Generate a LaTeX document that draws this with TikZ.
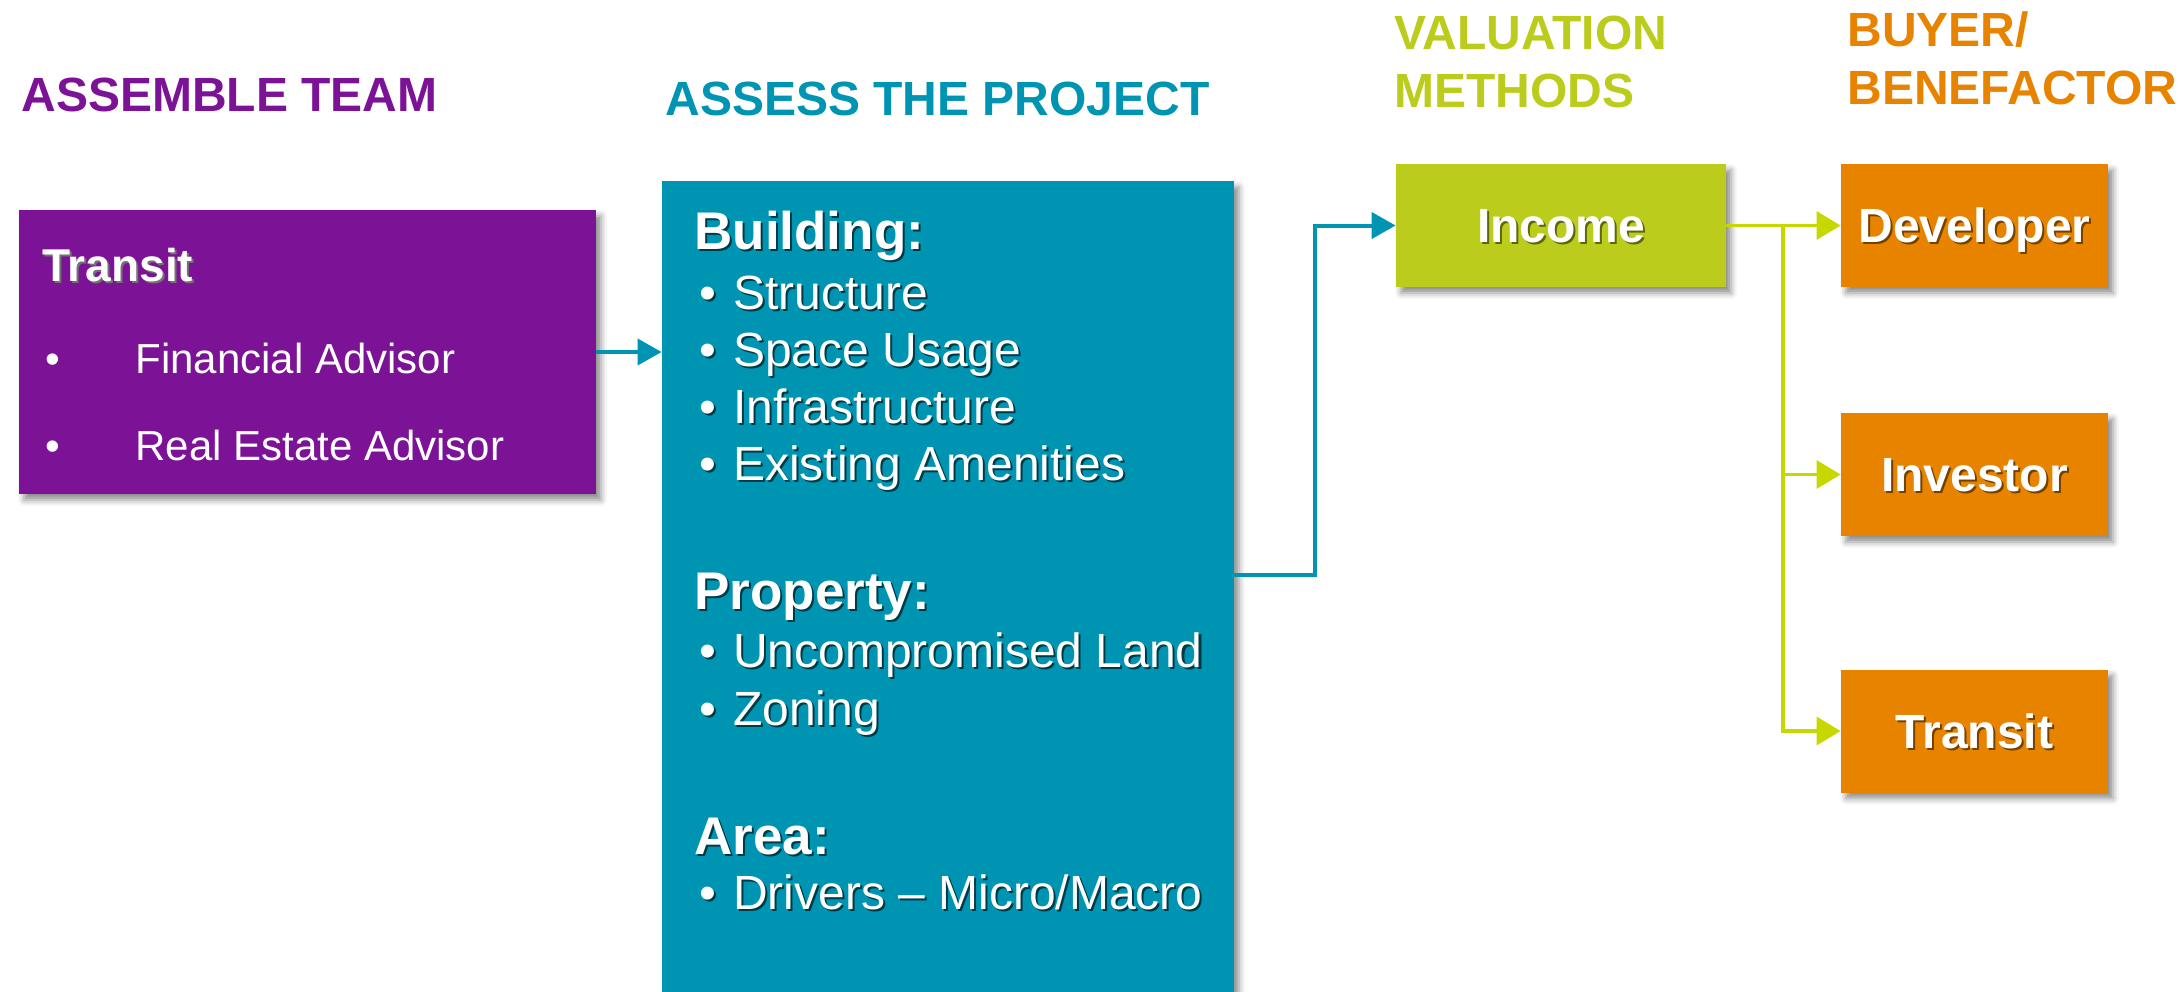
\documentclass[tikz,border=0pt]{standalone}
\usepackage{fontspec}
\setmainfont{Liberation Sans}
\usetikzlibrary{arrows.meta,shadows.blur}

\definecolor{purp}{HTML}{7C1296}
\definecolor{tealc}{HTML}{0094B3}
\definecolor{grnbox}{HTML}{BBCC1C}
\definecolor{grnline}{HTML}{C6D800}
\definecolor{orng}{HTML}{E88300}

% white text with a small dark offset shadow
\newcommand{\shd}[2][black!55]{\makebox[0pt][l]{\kern1pt\raisebox{-1pt}{\textcolor{#1}{#2}}}#2}
% bullet followed by a fixed gap
\newcommand{\blt}{•\hspace{8.5pt}}

\tikzset{
  heading/.style={anchor=base west, inner sep=0pt, font=\fontsize{24}{28}\selectfont\bfseries},
  boxshape/.style={rectangle, inner sep=0pt, text=white,
    blur shadow={shadow xshift=2.5pt, shadow yshift=-3pt, shadow blur radius=3pt, shadow opacity=45}},
  lbl/.style={boxshape, font=\fontsize{24}{28}\selectfont\bfseries, text height=17.2pt, text depth=0pt},
  txt/.style={anchor=base west, inner sep=0pt, text=white},
  subhead/.style={txt, font=\fontsize{26.5}{30}\selectfont\bfseries},
  item/.style={txt, font=\fontsize{24}{28}\selectfont},
  tealarrow/.style={draw=tealc, line width=2pt, -{Triangle[length=12pt,width=13pt]}},
  grnarrow/.style={draw=grnline, line width=1.6pt, -{Triangle[length=12pt,width=14pt]}},
}

\begin{document}
\begin{tikzpicture}[x=0.5pt,y=-0.5pt]
\useasboundingbox (0,0) rectangle (2182,991);

% column headings
\node[heading, text=purp] (h1) at (21,111) {ASSEMBLE TEAM};
\node[heading, text=tealc] (h2) at (665,115) {ASSESS THE PROJECT};
\node[heading, text=grnbox] (h3a) at (1394,49) {VALUATION};
\node[heading, text=grnbox] (h3b) at (1394,107) {METHODS};
\node[heading, text=orng] (h4a) at (1847,46) {BUYER/};
\node[heading, text=orng] (h4b) at (1847,104) {BENEFACTOR};

% team box
\node[boxshape, fill=purp, minimum width=288.5pt, minimum height=142pt] (team) at (307.5,352) {};
\node[txt, font=\fontsize{23}{27}\selectfont\bfseries] (teamt) at (42,281) {\shd{Transit}};
\node[txt, font=\fontsize{21}{25}\selectfont] (tb1) at (45,373) {•};
\node[txt, font=\fontsize{21}{25}\selectfont] (tf) at (135,373) {Financial Advisor};
\node[txt, font=\fontsize{21}{25}\selectfont] (tb2) at (45,460) {•};
\node[txt, font=\fontsize{21}{25}\selectfont] (tr) at (135,460) {Real Estate Advisor};

% project box
\node[boxshape, fill=tealc, minimum width=286pt, minimum height=420pt] (proj) at (948,601) {};
\node[subhead] (pb) at (694,249) {\shd[black!60!tealc]{Building:}};
\node[item] (p1) at (699,309) {\shd[black!60!tealc]{\blt Structure}};
\node[item] (p2) at (699,366) {\shd[black!60!tealc]{\blt Space Usage}};
\node[item] (p3) at (699,423) {\shd[black!60!tealc]{\blt Infrastructure}};
\node[item] (p4) at (699,480) {\shd[black!60!tealc]{\blt Existing Amenities}};
\node[subhead] (pp) at (694,609) {\shd[black!60!tealc]{Property:}};
\node[item] (p5) at (699,667) {\shd[black!60!tealc]{\blt Uncompromised Land}};
\node[item] (p6) at (699,725) {\shd[black!60!tealc]{\blt Zoning}};
\node[subhead] (pa) at (694,854) {\shd[black!60!tealc]{Area:}};
\node[item] (p7) at (699,909) {\shd[black!60!tealc]{\blt Drivers – Micro/Macro}};

% valuation and buyers
\node[lbl, fill=grnbox, minimum width=165pt, minimum height=61.5pt] (income) at (1561,225.5) {\shd[black!50!grnbox]{Income}};
\node[lbl, fill=orng, minimum width=133.5pt, minimum height=61.5pt] (dev) at (1974.5,225.5) {\shd[black!50!orng]{Developer}};
\node[lbl, fill=orng, minimum width=133.5pt, minimum height=61.5pt] (inv) at (1974.5,474.5) {\shd[black!50!orng]{Investor}};
\node[lbl, fill=orng, minimum width=133.5pt, minimum height=61.5pt] (tran) at (1974.5,731) {\shd[black!50!orng]{Transit}};

% connectors
\draw[tealarrow] (team.east) -- (team.east -| proj.west);
\draw[tealarrow] ([yshift=13pt]proj.east) -- ++(81,0) |- (income.west);
\draw[grnarrow] (income.east) -- (dev.west);
\coordinate (split) at (1783,225.5);
\draw[grnarrow] (split) |- (inv.west);
\draw[grnarrow] (split) |- (tran.west);
\end{tikzpicture}
\end{document}
